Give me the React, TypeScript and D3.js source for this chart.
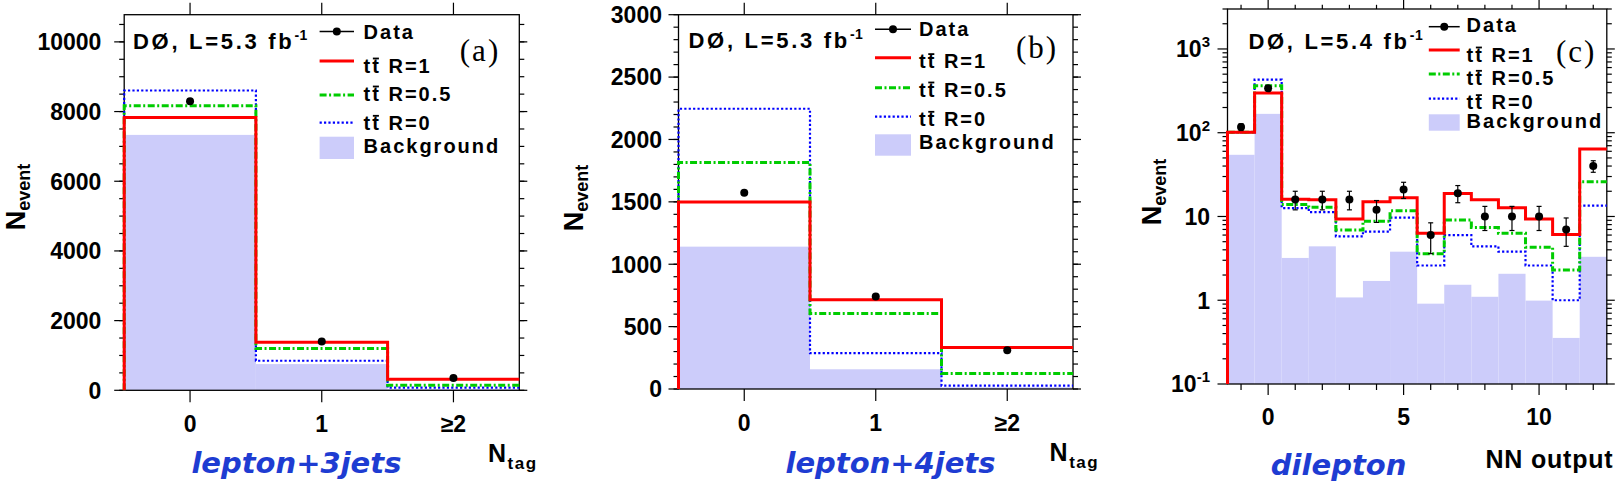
import React from 'react';
import * as d3 from 'd3';

// ---------- data ----------
// panels (a) and (b): N_tag categories
const tagCenters = [0, 1, 2];
const tagLabels = ['0', '1', '≥2'];

// (a) lepton+3jets
const aR1 = [7830, 1382, 314];
const aR05 = [8165, 1200, 143];
const aR0 = [8605, 848, 76];
const aBkg = [7330, 752, 40];
const aData = [8297, 1400, 352];

// (b) lepton+4jets
const bR1 = [1498, 716, 332];
const bR05 = [1815, 606, 125];
const bR0 = [2246, 287, 27];
const bBkg = [1141, 158, 14];
const bData = [1572, 742, 311];

// (c) dilepton, NN output bins
const nnCenters = [-1, 0, 1, 2, 3, 4, 5, 6, 7, 8, 9, 10, 11, 12];
const cR1 = [101, 298, 16.1, 15.8, 9.3, 15.0, 16.7, 6.3, 18.8, 15.8, 12.7, 9.3, 6.1, 64];
const cR05 = [101, 365, 13.9, 12.9, 6.9, 8.8, 11.7, 3.6, 9.1, 7.4, 6.3, 4.3, 2.3, 26];
const cR0 = [101, 430, 12.6, 11.3, 5.8, 6.6, 9.7, 2.6, 6.0, 4.4, 3.8, 2.6, 1.0, 13.5];
const cBkg = [54.5, 168, 3.2, 4.4, 1.08, 1.7, 3.8, 0.91, 1.53, 1.1, 2.07, 0.99, 0.355, 3.3];
const cData = [117, 339, 16, 16, 16, 12, 21, 6, 19, 10, 10, 10, 7, 40];
const cErr = [10.8, 18.4, 4, 4, 4, 3.5, 4.6, 2.4, 4.4, 3.2, 3.2, 3.2, 2.6, 6.3];

// ticks
const aYMajor = [0, 2000, 4000, 6000, 8000, 10000];
const aYMinor = d3.range(0, 10800, 500);
const bYMajor = [0, 500, 1000, 1500, 2000, 2500, 3000];
const bYMinor = d3.range(0, 3001, 100);
const cYMajor = [0.1, 1, 10, 100, 1000];
const cYMinor = [0.2, 0.3, 0.4, 0.5, 0.6, 0.7, 0.8, 0.9, 2, 3, 4, 5, 6, 7, 8, 9, 20, 30, 40, 50, 60, 70, 80, 90, 200, 300, 400, 500, 600, 700, 800, 900, 2000, 3000];
const cXMajor = [0, 5, 10];
const cXMinor = [-1, 1, 2, 3, 4, 6, 7, 8, 9, 11, 12];

const legendLabels = ['Data', 'R=1', 'R=0.5', 'R=0', 'Background'];

// ---------- style ----------
const SANS = "'Liberation Sans', Arial, Helvetica, sans-serif";
const SERIF = "'Liberation Serif', 'Times New Roman', serif";
const RED = '#ff0000';
const GREEN = '#00cc00';
const BLUE = '#0000ff';
const BKG = '#ccccfa';
const CATBLUE = '#1e3cd2';
const LEG_SIZE = 20;
const LEG_LS = 2.0;

type Box = { l: number; r: number; t: number; b: number };

type PanelProps = {
  box: Box;
  xDomain: [number, number];
  log: boolean;
  yDomain: [number, number];
  yMajor: number[];
  yMinor: number[];
  yLabelX: number;
  xMajor: number[];
  xMinor: number[];
  xLabels: string[];
  xLabelDy: number;
  centers: number[];
  r1: number[];
  r05: number[];
  r0: number[];
  bkg: number[];
  data: number[];
  err?: number[];
  lumi: string;
  lumiX: number;
  lumiY: number;
  tagText: string;
  tagX: number;
  tagY: number;
  leg: { x1: number; x2: number; tx: number; lines: number[]; box: [number, number]; base: number[] };
  yTitle: { x: number; y: number };
  xTitle: { x: number; y: number; main: string; sub?: string; size: number; ls: number };
  cat: { text: string; x: number; y: number };
  xMajorLen: number;
  xMinorLen: number;
};

function logLabel(v: number) {
  const e = Math.round(Math.log10(v));
  if (e === 0) return <tspan>1</tspan>;
  if (e === 1) return <tspan>10</tspan>;
  return (
    <>
      <tspan>10</tspan>
      <tspan fontSize={15} dy={-10}>{String(e)}</tspan>
    </>
  );
}

function TT({ x, y, label }: { x: number; y: number; label: string }) {
  const tw = LEG_SIZE * 0.333;
  return (
    <g>
      <text x={x} y={y} fontFamily={SANS} fontWeight="bold" fontSize={LEG_SIZE} letterSpacing={LEG_LS}>
        {'tt ' + label}
      </text>
      <line x1={x + tw + LEG_LS + 0.6} x2={x + 2 * tw + LEG_LS} y1={y - 14.2} y2={y - 14.2} stroke="#000" strokeWidth={1.8} />
    </g>
  );
}

function Panel(p: PanelProps) {
  const { box } = p;
  const x = d3.scaleLinear().domain(p.xDomain).range([box.l, box.r]);
  const y = p.log
    ? d3.scaleLog().domain(p.yDomain).range([box.b, box.t])
    : d3.scaleLinear().domain(p.yDomain).range([box.b, box.t]);
  const base = p.yDomain[0];
  const stepPath = (vals: number[]) => {
    const pts: [number, number][] = [[p.centers[0] - 0.5, base]];
    p.centers.forEach((c, i) => {
      pts.push([c - 0.5, vals[i]]);
      pts.push([c + 0.5, vals[i]]);
    });
    return d3
      .line<[number, number]>()
      .x((d) => x(d[0]))
      .y((d) => y(d[1]))(pts) as string;
  };
  const yMaj = 10;
  const yMin = 5;
  return (
    <g>
      {/* background */}
      {p.centers.map((c, i) => (
        <rect key={'bk' + i} x={x(c - 0.5)} width={x(c + 0.5) - x(c - 0.5)} y={y(p.bkg[i])} height={y(base) - y(p.bkg[i])} fill={BKG} />
      ))}
      {/* frame */}
      <rect x={box.l} y={box.t} width={box.r - box.l} height={box.b - box.t} fill="none" stroke="#000" strokeWidth={1.3} />
      {/* y ticks */}
      {p.yMinor.map((v, i) => (
        <g key={'ym' + i}>
          <line x1={box.l - yMin} x2={box.l} y1={y(v)} y2={y(v)} stroke="#000" strokeWidth={1.2} />
          <line x1={box.r} x2={box.r + yMin} y1={y(v)} y2={y(v)} stroke="#000" strokeWidth={1.2} />
        </g>
      ))}
      {p.yMajor.map((v, i) => (
        <g key={'yM' + i}>
          <line x1={box.l - yMaj} x2={box.l} y1={y(v)} y2={y(v)} stroke="#000" strokeWidth={1.2} />
          <line x1={box.r} x2={box.r + 8} y1={y(v)} y2={y(v)} stroke="#000" strokeWidth={1.2} />
          <text x={p.yLabelX} y={y(v)} dy="0.36em" textAnchor="end" fontFamily={SANS} fontWeight="bold" fontSize={23}>
            {p.log ? logLabel(v) : String(v)}
          </text>
        </g>
      ))}
      {/* x ticks */}
      {p.xMinor.map((v, i) => (
        <g key={'xm' + i}>
          <line x1={x(v)} x2={x(v)} y1={box.b} y2={box.b + p.xMinorLen} stroke="#000" strokeWidth={1.2} />
          <line x1={x(v)} x2={x(v)} y1={box.t - p.xMinorLen * 0.7} y2={box.t} stroke="#000" strokeWidth={1.2} />
        </g>
      ))}
      {p.xMajor.map((v, i) => (
        <g key={'xM' + i}>
          <line x1={x(v)} x2={x(v)} y1={box.b} y2={box.b + p.xMajorLen} stroke="#000" strokeWidth={1.2} />
          <line x1={x(v)} x2={x(v)} y1={box.t - p.xMajorLen} y2={box.t} stroke="#000" strokeWidth={1.2} />
          <text x={x(v)} y={box.b + p.xLabelDy} textAnchor="middle" fontFamily={SANS} fontWeight="bold" fontSize={23}>
            {p.xLabels[i]}
          </text>
        </g>
      ))}
      {/* histograms */}
      <path d={stepPath(p.r0)} fill="none" stroke={BLUE} strokeWidth={2.2} strokeDasharray="2.2,2.2" />
      <path d={stepPath(p.r05)} fill="none" stroke={GREEN} strokeWidth={3} strokeDasharray="7,2.5,2,2.5" />
      <path d={stepPath(p.r1)} fill="none" stroke={RED} strokeWidth={3} />
      {/* data */}
      {p.centers.map((c, i) => {
        const e = p.err ? p.err[i] : 0;
        return (
          <g key={'d' + i}>
            {p.err && (
              <g stroke="#000" strokeWidth={1.2}>
                <line x1={x(c)} x2={x(c)} y1={y(p.data[i] + e)} y2={y(Math.max(p.data[i] - e, base))} />
                <line x1={x(c) - 2.5} x2={x(c) + 2.5} y1={y(p.data[i] + e)} y2={y(p.data[i] + e)} />
                <line x1={x(c) - 2.5} x2={x(c) + 2.5} y1={y(p.data[i] - e)} y2={y(p.data[i] - e)} />
              </g>
            )}
            <circle cx={x(c)} cy={y(p.data[i])} r={4} fill="#000" />
          </g>
        );
      })}
      {/* lumi */}
      <text x={p.lumiX} y={p.lumiY} fontFamily={SANS} fontWeight="bold" fontSize={22} letterSpacing={2.7}>
        {p.lumi}
        <tspan fontSize={14} dy={-9} letterSpacing={0.5}>-1</tspan>
      </text>
      <text x={p.tagX} y={p.tagY} fontFamily={SERIF} fontSize={31} letterSpacing={2}>
        {p.tagText}
      </text>
      {/* legend */}
      <line x1={p.leg.x1} x2={p.leg.x2} y1={p.leg.lines[0]} y2={p.leg.lines[0]} stroke="#000" strokeWidth={1.5} />
      <circle cx={(p.leg.x1 + p.leg.x2) / 2} cy={p.leg.lines[0]} r={4} fill="#000" />
      <line x1={p.leg.x1} x2={p.leg.x2} y1={p.leg.lines[1]} y2={p.leg.lines[1]} stroke={RED} strokeWidth={3} />
      <line x1={p.leg.x1} x2={p.leg.x2} y1={p.leg.lines[2]} y2={p.leg.lines[2]} stroke={GREEN} strokeWidth={3} strokeDasharray="7,2.5,2,2.5" />
      <line x1={p.leg.x1} x2={p.leg.x2} y1={p.leg.lines[3]} y2={p.leg.lines[3]} stroke={BLUE} strokeWidth={2.2} strokeDasharray="2.2,2.2" />
      <rect x={p.leg.x1} width={p.leg.x2 - p.leg.x1} y={p.leg.box[0]} height={p.leg.box[1] - p.leg.box[0]} fill={BKG} />
      <text x={p.leg.tx} y={p.leg.base[0]} fontFamily={SANS} fontWeight="bold" fontSize={LEG_SIZE} letterSpacing={LEG_LS}>
        {legendLabels[0]}
      </text>
      <TT x={p.leg.tx} y={p.leg.base[1]} label={legendLabels[1]} />
      <TT x={p.leg.tx} y={p.leg.base[2]} label={legendLabels[2]} />
      <TT x={p.leg.tx} y={p.leg.base[3]} label={legendLabels[3]} />
      <text x={p.leg.tx} y={p.leg.base[4]} fontFamily={SANS} fontWeight="bold" fontSize={LEG_SIZE} letterSpacing={LEG_LS}>
        {legendLabels[4]}
      </text>
      {/* axis titles */}
      <text transform={`translate(${p.yTitle.x},${p.yTitle.y}) rotate(-90)`} textAnchor="middle" fontFamily={SANS} fontWeight="bold" fontSize={27}>
        N<tspan fontSize={18} dy={5}>event</tspan>
      </text>
      <text x={p.xTitle.x} y={p.xTitle.y} fontFamily={SANS} fontWeight="bold" fontSize={p.xTitle.size} letterSpacing={p.xTitle.ls}>
        {p.xTitle.main}
        {p.xTitle.sub && (
          <tspan fontSize={17} dy={7}>{p.xTitle.sub}</tspan>
        )}
      </text>
      <text x={p.cat.x} y={p.cat.y} textAnchor="middle" fontFamily="'DejaVu Sans', sans-serif" fontWeight="bold" fontStyle="italic" fontSize={29} fill={CATBLUE}>
        {p.cat.text}
      </text>
    </g>
  );
}

export default function App() {
  return (
    <svg width={1617} height={491} style={{ position: 'absolute', left: 0, top: 0, background: '#fff' }}>
      <rect width={1617} height={491} fill="#fff" />
      <Panel
        box={{ l: 124.2, r: 519.3, t: 14.7, b: 390.3 }}
        xDomain={[-0.5, 2.5]}
        log={false}
        yDomain={[0, 10780]}
        yMajor={aYMajor}
        yMinor={aYMinor}
        yLabelX={101.4}
        xMajor={tagCenters}
        xMinor={[]}
        xLabels={tagLabels}
        xLabelDy={42}
        centers={tagCenters}
        r1={aR1}
        r05={aR05}
        r0={aR0}
        bkg={aBkg}
        data={aData}
        lumi="DØ, L=5.3 fb"
        lumiX={133}
        lumiY={48.5}
        tagText="(a)"
        tagX={459.8}
        tagY={61}
        leg={{ x1: 319.6, x2: 354, tx: 363.6, lines: [31.5, 61, 95, 122.7], box: [136.7, 159], base: [38.6, 72.7, 100.7, 130, 153.3] }}
        yTitle={{ x: 25, y: 197 }}
        xTitle={{ x: 488, y: 461.7, main: 'N', sub: 'tag', size: 25, ls: 1.5 }}
        cat={{ text: 'lepton+3jets', x: 296.4, y: 473 }}
        xMajorLen={12}
        xMinorLen={6}
      />
      <Panel
        box={{ l: 678.5, r: 1073, t: 14.7, b: 389 }}
        xDomain={[-0.5, 2.5]}
        log={false}
        yDomain={[0, 3000]}
        yMajor={bYMajor}
        yMinor={bYMinor}
        yLabelX={662}
        xMajor={tagCenters}
        xMinor={[]}
        xLabels={tagLabels}
        xLabelDy={42}
        centers={tagCenters}
        r1={bR1}
        r05={bR05}
        r0={bR0}
        bkg={bBkg}
        data={bData}
        lumi="DØ, L=5.3 fb"
        lumiX={688.5}
        lumiY={48}
        tagText="(b)"
        tagX={1016}
        tagY={58.3}
        leg={{ x1: 875, x2: 911, tx: 919, lines: [29.3, 57.7, 87.7, 116.7], box: [134.3, 155.7], base: [36, 68.3, 96.7, 126, 149.3] }}
        yTitle={{ x: 583, y: 198 }}
        xTitle={{ x: 1049.6, y: 460.7, main: 'N', sub: 'tag', size: 25, ls: 1.5 }}
        cat={{ text: 'lepton+4jets', x: 890.5, y: 473 }}
        xMajorLen={12}
        xMinorLen={6}
      />
      <Panel
        box={{ l: 1227.5, r: 1606.8, t: 9, b: 384 }}
        xDomain={[-1.5, 12.5]}
        log={true}
        yDomain={[0.1, 3000]}
        yMajor={cYMajor}
        yMinor={cYMinor}
        yLabelX={1210}
        xMajor={cXMajor}
        xMinor={cXMinor}
        xLabels={['0', '5', '10']}
        xLabelDy={41}
        centers={nnCenters}
        r1={cR1}
        r05={cR05}
        r0={cR0}
        bkg={cBkg}
        data={cData}
        err={cErr}
        lumi="DØ, L=5.4 fb"
        lumiX={1248.4}
        lumiY={49}
        tagText="(c)"
        tagX={1556}
        tagY={61.7}
        leg={{ x1: 1428.8, x2: 1459.7, tx: 1466.6, lines: [26.7, 50, 74, 98.7], box: [114.3, 130.7], base: [32.3, 61.7, 85, 109.3, 128.3] }}
        yTitle={{ x: 1161, y: 192 }}
        xTitle={{ x: 1485.5, y: 467.7, main: 'NN output', size: 25, ls: 0.8 }}
        cat={{ text: 'dilepton', x: 1338.6, y: 475 }}
        xMajorLen={11}
        xMinorLen={6}
      />
    </svg>
  );
}
